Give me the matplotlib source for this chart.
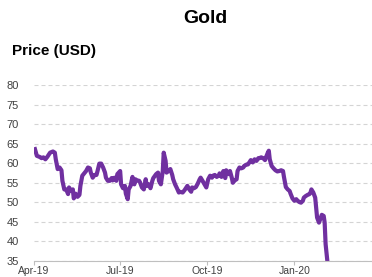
import matplotlib
matplotlib.use("Agg")
import matplotlib.pyplot as plt
import matplotlib.dates as mdates
import pandas as pd

plt.rcParams['font.family'] = ['Liberation Sans', 'DejaVu Sans']

# price readings (USD)
dates = [
    "2019-04-02", "2019-04-04", "2019-04-07", "2019-04-09", "2019-04-11", "2019-04-13",
    "2019-04-15", "2019-04-18", "2019-04-21", "2019-04-23", "2019-04-24", "2019-04-26",
    "2019-04-28", "2019-04-30", "2019-05-01", "2019-05-03", "2019-05-05", "2019-05-07",
    "2019-05-08", "2019-05-10", "2019-05-12", "2019-05-13", "2019-05-15", "2019-05-17",
    "2019-05-19", "2019-05-20", "2019-05-22", "2019-05-24", "2019-05-26", "2019-05-28",
    "2019-05-30", "2019-05-31", "2019-06-02", "2019-06-04", "2019-06-06", "2019-06-07",
    "2019-06-09", "2019-06-11", "2019-06-13", "2019-06-15", "2019-06-16", "2019-06-18",
    "2019-06-20", "2019-06-22", "2019-06-23", "2019-06-25", "2019-06-27", "2019-06-28",
    "2019-07-01", "2019-07-02", "2019-07-04", "2019-07-06", "2019-07-07", "2019-07-09",
    "2019-07-10", "2019-07-12", "2019-07-14", "2019-07-16", "2019-07-17", "2019-07-19",
    "2019-07-21", "2019-07-22", "2019-07-24", "2019-07-26", "2019-07-28", "2019-07-29",
    "2019-07-31", "2019-08-02", "2019-08-04", "2019-08-05", "2019-08-08", "2019-08-10",
    "2019-08-11", "2019-08-13", "2019-08-15", "2019-08-16", "2019-08-18", "2019-08-19",
    "2019-08-21", "2019-08-23", "2019-08-25", "2019-08-26", "2019-08-28", "2019-08-30",
    "2019-09-01", "2019-09-02", "2019-09-05", "2019-09-07", "2019-09-10", "2019-09-12",
    "2019-09-14", "2019-09-15", "2019-09-17", "2019-09-19", "2019-09-21", "2019-09-23",
    "2019-09-24", "2019-09-26", "2019-09-29", "2019-09-30", "2019-10-02", "2019-10-04",
    "2019-10-06", "2019-10-07", "2019-10-09", "2019-10-11", "2019-10-13", "2019-10-14",
    "2019-10-16", "2019-10-18", "2019-10-20", "2019-10-21", "2019-10-23", "2019-10-25",
    "2019-10-27", "2019-10-28", "2019-10-30", "2019-11-01", "2019-11-02", "2019-11-04",
    "2019-11-06", "2019-11-08", "2019-11-09", "2019-11-11", "2019-11-13", "2019-11-15",
    "2019-11-16", "2019-11-18", "2019-11-20", "2019-11-22", "2019-11-24", "2019-11-25",
    "2019-11-27", "2019-11-29", "2019-12-01", "2019-12-02", "2019-12-04", "2019-12-05",
    "2019-12-06", "2019-12-08", "2019-12-10", "2019-12-12", "2019-12-14", "2019-12-16",
    "2019-12-18", "2019-12-20", "2019-12-21", "2019-12-23", "2019-12-25", "2019-12-27",
    "2019-12-28", "2019-12-30", "2020-01-01", "2020-01-03", "2020-01-04", "2020-01-06",
    "2020-01-08", "2020-01-10", "2020-01-11", "2020-01-13", "2020-01-15", "2020-01-17",
    "2020-01-18", "2020-01-19", "2020-01-21", "2020-01-23", "2020-01-24", "2020-01-25",
    "2020-01-27", "2020-01-29", "2020-01-30", "2020-02-01", "2020-02-02", "2020-02-03",
    "2020-02-05",
]
prices = [
    63.6, 61.9, 61.6, 61.3, 61.5, 61.0,
    61.6, 62.7, 63.0, 62.7, 61.0, 58.5,
    58.9, 58.2, 55.5, 53.3, 53.3, 52.1,
    53.8, 52.9, 53.3, 51.0, 52.2, 51.4,
    51.9, 54.2, 56.8, 57.4, 58.0, 58.9,
    58.7, 57.6, 56.3, 57.0, 57.0, 57.9,
    59.9, 59.9, 58.9, 57.6, 56.3, 55.5,
    55.5, 56.2, 55.6, 56.3, 55.5, 57.2,
    58.0, 54.6, 53.6, 54.2, 52.2, 50.8,
    53.3, 54.2, 56.5, 54.6, 55.9, 55.6,
    55.5, 55.1, 53.8, 53.3, 55.9, 54.2,
    54.6, 53.6, 55.5, 56.2, 57.2, 57.6,
    55.5, 54.6, 58.0, 62.7, 60.6, 57.6,
    58.0, 58.5, 57.0, 55.9, 54.6, 53.6,
    52.5, 52.7, 52.5, 53.1, 54.2, 53.3,
    52.7, 53.8, 53.6, 53.9, 54.8, 55.9,
    56.3, 55.5, 54.2, 53.8, 55.9, 56.8,
    56.3, 56.8, 57.0, 56.5, 56.8, 57.4,
    56.5, 58.0, 56.2, 58.2, 57.2, 58.0,
    56.2, 55.0, 55.6, 55.9, 58.0, 58.9,
    58.7, 58.9, 59.3, 59.6, 59.7, 60.4,
    60.8, 60.2, 61.0, 60.6, 61.3, 61.3,
    61.5, 61.3, 60.8, 61.5, 62.7, 63.2,
    61.0, 59.3, 58.7, 58.2, 57.9, 58.0,
    58.2, 58.0, 56.5, 53.9, 53.3, 52.9,
    52.2, 51.0, 50.4, 50.8, 50.5, 50.1,
    49.9, 50.4, 51.2, 51.6, 51.9, 52.1,
    52.5, 53.3, 52.5, 51.2, 48.7, 46.1,
    44.8, 46.1, 46.8, 46.5, 44.8, 39.3,
    34.6,
]
yticks = [35, 40, 45, 50, 55, 60, 65, 70, 75, 80]
xticks = ["2019-04-01", "2019-07-01", "2019-10-01", "2020-01-01"]

x = pd.to_datetime(dates)

fig = plt.figure(figsize=(3.72, 2.77), dpi=100)
ax = fig.add_axes([0.0914, 0.058, 0.9086, 0.635])

ax.plot(x, prices, color="#7030A0", linewidth=3.0, solid_joinstyle="round")

ax.set_xlim(pd.Timestamp("2019-04-01"), pd.Timestamp("2020-03-23"))
ax.set_ylim(35, 80)
ax.set_yticks(yticks)
ax.set_xticks(pd.to_datetime(xticks))
ax.xaxis.set_major_formatter(mdates.DateFormatter("%b-%y"))

for s in ["top", "right", "left"]:
    ax.spines[s].set_visible(False)
ax.spines["bottom"].set_color("#BFBFBF")
ax.spines["bottom"].set_linewidth(0.8)

ax.grid(axis="y", color="#D4D4D4", linestyle=(0, (3.6, 2.7)), linewidth=0.8)
ax.set_axisbelow(True)
ax.tick_params(axis="y", length=0, pad=11, labelsize=8, labelcolor="#404040")
ax.tick_params(axis="x", length=3, width=0.8, color="#BFBFBF", pad=1,
               labelsize=7.5, labelcolor="#404040")

fig.text(0.552, 0.932, "Gold", ha="center", va="center", fontsize=14, fontweight="bold")
fig.text(0.032, 0.817, "Price (USD)", ha="left", va="center", fontsize=11, fontweight="bold")

fig.savefig("out.png", dpi=100)
